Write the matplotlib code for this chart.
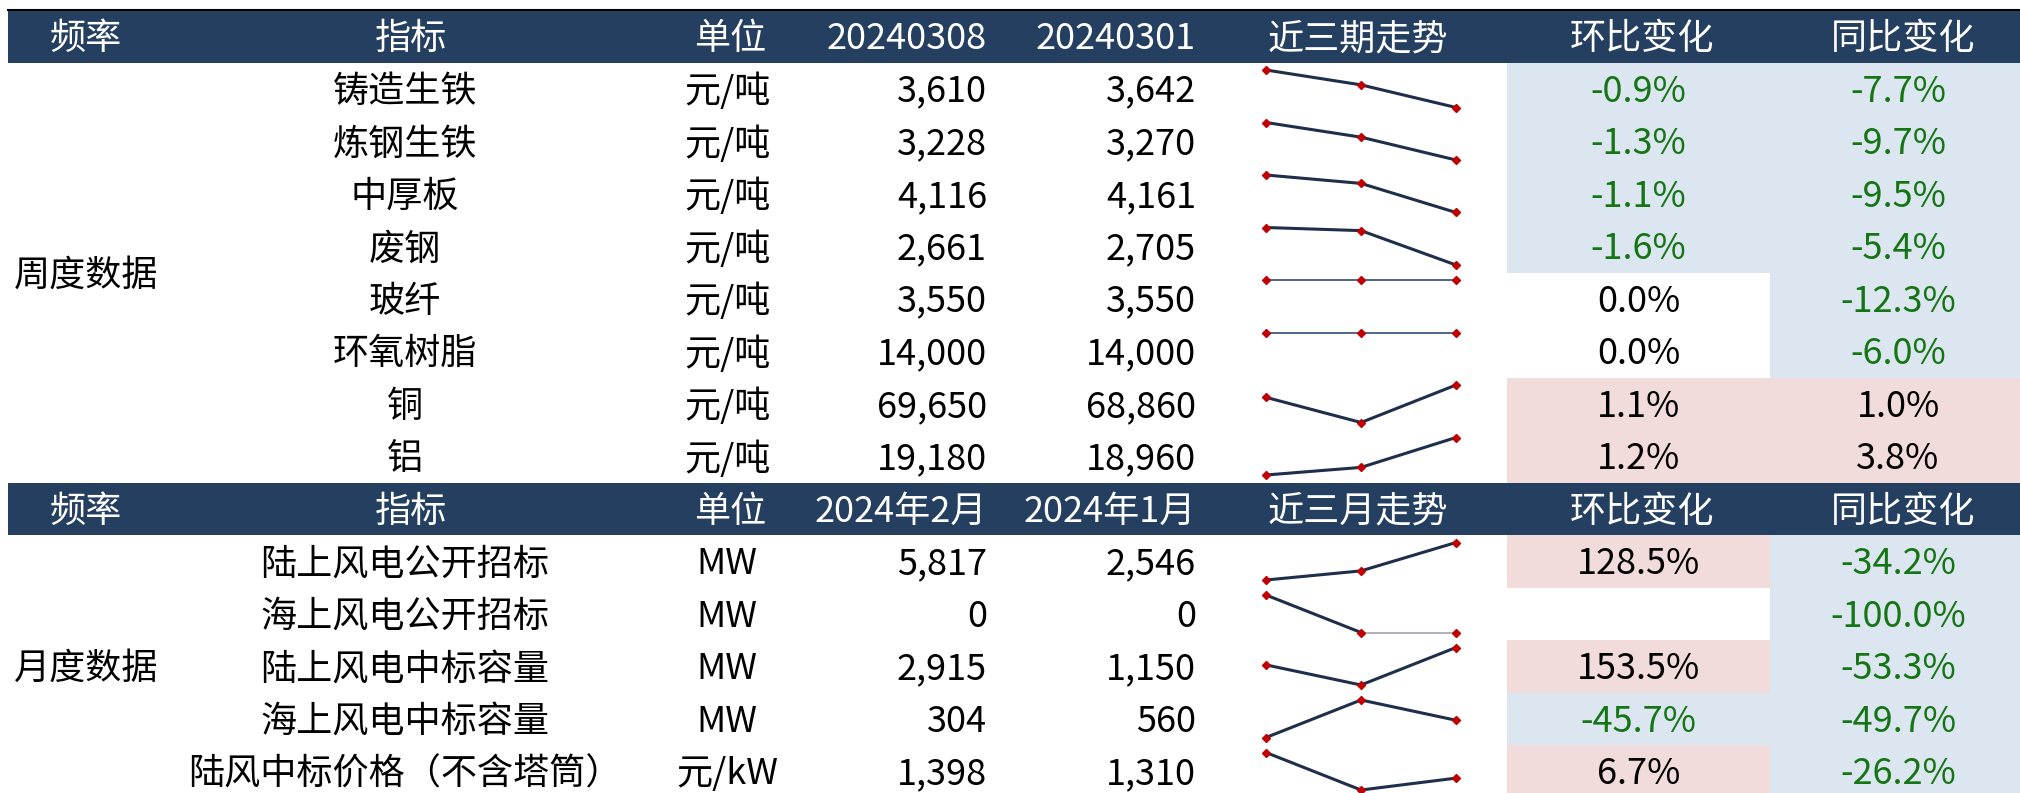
import matplotlib
matplotlib.use("Agg")
import matplotlib.pyplot as plt
from matplotlib.patches import Rectangle

plt.rcParams['font.family'] = ['Noto Sans CJK SC', 'DejaVu Sans']

# ---------------------------------------------------------------------------
# Data
# ---------------------------------------------------------------------------
HEADER_WEEK = ["频率", "指标", "单位", "20240308", "20240301", "近三期走势", "环比变化", "同比变化"]
HEADER_MONTH = ["频率", "指标", "单位", "2024年2月", "2024年1月", "近三月走势", "环比变化", "同比变化"]

WEEK_GROUP = "周度数据"
WEEK_NAMES = ["铸造生铁", "炼钢生铁", "中厚板", "废钢", "玻纤", "环氧树脂", "铜", "铝"]
WEEK_UNITS = ["元/吨"] * 8
WEEK_CUR = [3610, 3228, 4116, 2661, 3550, 14000, 69650, 19180]
WEEK_PREV = [3642, 3270, 4161, 2705, 3550, 14000, 68860, 18960]
WEEK_OLD = [3663, 3297, 4174, 2709, 3550, 14000, 69390, 18904]
WEEK_MOM = [-0.9, -1.3, -1.1, -1.6, 0.0, 0.0, 1.1, 1.2]
WEEK_YOY = [-7.7, -9.7, -9.5, -5.4, -12.3, -6.0, 1.0, 3.8]

MONTH_GROUP = "月度数据"
MONTH_NAMES = ["陆上风电公开招标", "海上风电公开招标", "陆上风电中标容量", "海上风电中标容量", "陆风中标价格（不含塔筒）"]
MONTH_UNITS = ["MW", "MW", "MW", "MW", "元/kW"]
MONTH_CUR = [5817, 0, 2915, 304, 1398]
MONTH_PREV = [2546, 0, 1150, 560, 1310]
MONTH_OLD = [1496, 1000, 2096, 86, 1588]
MONTH_MOM = [128.5, None, 153.5, -45.7, 6.7]
MONTH_YOY = [-34.2, -100.0, -53.3, -49.7, -26.2]

# ---------------------------------------------------------------------------
# Layout / style
# ---------------------------------------------------------------------------
W, H = 2020, 793
ROW_H = 52.5
TOP = 10
LEFT = 8
DY = 3            # text sits a touch below the row centre
HEAD_COLOR = "#243F60"
BLUE_BG = "#DCE6F1"
PINK_BG = "#F2DCDB"
GREEN = "#157515"
FS = 26

COL_FREQ = 86
COL_NAME = 405
COL_UNIT = 727
COL_CUR_R = 987
COL_PREV_R = 1196
SPARK_X0, SPARK_X1 = 1266, 1456
MOM_X0, MOM_X1 = 1507, 1770
YOY_X0, YOY_X1 = 1770, W

fig = plt.figure(figsize=(W / 100, H / 100), dpi=100)
ax = fig.add_axes([0, 0, 1, 1])
ax.set_xlim(0, W)
ax.set_ylim(H, 0)
ax.axis("off")


def header(y0, labels):
    ax.add_patch(Rectangle((LEFT, y0), W - LEFT, ROW_H, color=HEAD_COLOR, lw=0))
    yc = y0 + ROW_H / 2 + DY
    kw = dict(color="white", fontsize=FS, va="center")
    ax.text(COL_FREQ, yc, labels[0], ha="center", **kw)
    ax.text(COL_NAME + 6, yc, labels[1], ha="center", **kw)
    ax.text(COL_UNIT + 3, yc, labels[2], ha="center", **kw)
    ax.text(COL_CUR_R, yc, labels[3], ha="right", **kw)
    ax.text(COL_PREV_R, yc, labels[4], ha="right", **kw)
    ax.text((SPARK_X0 + SPARK_X1) / 2 - 3, yc, labels[5], ha="center", **kw)
    ax.text((MOM_X0 + MOM_X1) / 2 + 3, yc, labels[6], ha="center", **kw)
    ax.text((YOY_X0 + YOY_X1) / 2 + 8, yc, labels[7], ha="center", **kw)


def pct_cell(x0, x1, y0, val, text_dx=0):
    if val is None:
        return
    if val < 0:
        bg, fc = BLUE_BG, GREEN
    elif val > 0:
        bg, fc = PINK_BG, "black"
    else:
        bg, fc = None, "black"
    if bg:
        ax.add_patch(Rectangle((x0, y0), x1 - x0, ROW_H, color=bg, lw=0))
    ax.text((x0 + x1) / 2 + text_dx, y0 + ROW_H / 2 + DY, f"{val:.1f}%",
            ha="center", va="center", fontsize=FS, color=fc)


def sparkline(y0, vals):
    pad = 7.5
    bottom = 1 - (y0 + ROW_H - pad) / H
    height = (ROW_H - 2 * pad) / H
    sax = fig.add_axes([SPARK_X0 / W, bottom, (SPARK_X1 - SPARK_X0) / W, height])
    sax.axis("off")
    xs = [0, 1, 2]
    lo, hi = min(vals), max(vals)
    if hi == lo:
        sax.set_ylim(lo - 1, hi)
    else:
        sax.set_ylim(lo, hi)
    sax.set_xlim(0, 2)
    for k in range(2):
        a, b = vals[k], vals[k + 1]
        if a == b:
            col, lw = ("#A9ABB9", 1.3) if a == 0 else ("#4E6590", 1.4)
        else:
            col, lw = "#1F2E4A", 2.2
        sax.plot(xs[k:k + 2], [a, b], color=col, lw=lw, clip_on=False,
                 solid_capstyle="butt")
    sax.plot(xs, vals, ls="none", marker="D", ms=3.8, color="#C00000",
             clip_on=False, zorder=5)


def block(y0, group, names, units, cur, prev, old, mom, yoy):
    n = len(names)
    for i in range(n):
        ry = y0 + ROW_H * i
        yc = ry + ROW_H / 2 + DY
        pct_cell(MOM_X0, MOM_X1, ry, mom[i])
        pct_cell(YOY_X0, YOY_X1, ry, yoy[i], text_dx=3)
        ax.text(COL_NAME, yc, names[i], ha="center", va="center", fontsize=FS)
        ax.text(COL_UNIT, yc, units[i], ha="center", va="center", fontsize=FS)
        ax.text(COL_CUR_R, yc, f"{cur[i]:,}", ha="right", va="center", fontsize=FS)
        ax.text(COL_PREV_R, yc, f"{prev[i]:,}", ha="right", va="center", fontsize=FS)
        sparkline(ry, [old[i], prev[i], cur[i]])
    ax.text(COL_FREQ, y0 + ROW_H * n / 2 + DY, group, ha="center", va="center", fontsize=FS)


y = TOP
header(y, HEADER_WEEK)
ax.plot([LEFT, W], [TOP, TOP], color="black", lw=1.5)
y += ROW_H
block(y, WEEK_GROUP, WEEK_NAMES, WEEK_UNITS, WEEK_CUR, WEEK_PREV, WEEK_OLD, WEEK_MOM, WEEK_YOY)
y += ROW_H * len(WEEK_NAMES)
header(y, HEADER_MONTH)
y += ROW_H
block(y, MONTH_GROUP, MONTH_NAMES, MONTH_UNITS, MONTH_CUR, MONTH_PREV, MONTH_OLD, MONTH_MOM, MONTH_YOY)

fig.savefig("out.png", dpi=100)
